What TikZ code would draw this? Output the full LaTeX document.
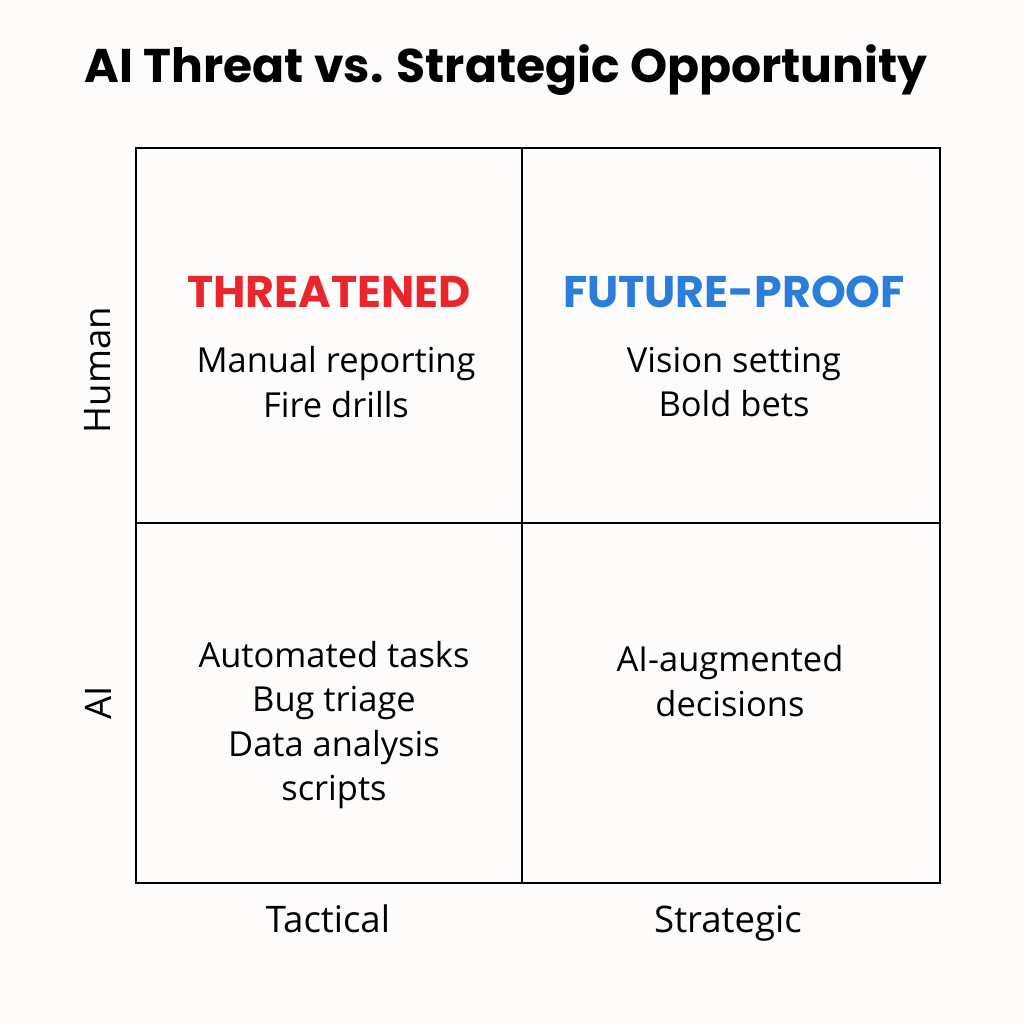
\documentclass[tikz,border=0pt]{standalone}
\usepackage{fontspec}
\setmainfont{Open Sans}
\newfontfamily\titlefont{Poppins}
\definecolor{bg}{HTML}{FDFCFA}
\definecolor{tred}{HTML}{E8262B}
\definecolor{tblue}{HTML}{2A7DDB}
\begin{document}
\begin{tikzpicture}[x=0.025cm,y=-0.025cm,
  body/.style={font=\fontsize{24.5}{31.5}\selectfont,align=center,text=black},
  head/.style={font=\titlefont\fontsize{31.5}{34}\selectfont\bfseries},
  ax/.style={font=\fontsize{26}{30}\selectfont}]
\fill[bg] (0,0) rectangle (1024,1024);
\useasboundingbox (0,0) rectangle (1024,1024);
\node[font=\titlefont\fontsize{33.6}{38}\selectfont\bfseries, anchor=west] (title) at (80,70) {AI Threat vs. Strategic Opportunity};
\draw[line width=1.4pt] (136,148) rectangle (940,883);
\draw[line width=1.4pt] (522,148) -- (522,883);
\draw[line width=1.4pt] (136,523) -- (940,523);
\node[head,text=tred] (thr) at (329,292) {THREATENED};
\node[head,text=tblue] (fut) at (734,292) {FUTURE-PROOF};
\node[body] (q1) at (336,382) {Manual reporting\\Fire drills};
\node[body] (q2) at (734,382) {Vision setting\\Bold bets};
\node[body] (q3) at (334,725) {Automated tasks\\Bug triage\\Data analysis\\scripts};
\node[body] (q4) at (730,681) {AI-augmented\\decisions};
\node[ax,rotate=90] (hum) at (98,370) {Human};
\node[ax,rotate=90] (ai) at (98,703) {AI};
\node[ax,anchor=base] (tac) at (328,932) {Tactical};
\node[ax,anchor=base] (str) at (728,932) {Strategic};
\end{tikzpicture}
\end{document}
